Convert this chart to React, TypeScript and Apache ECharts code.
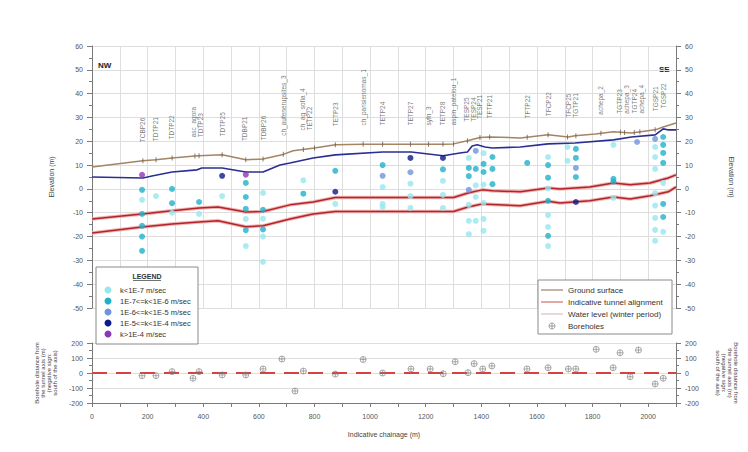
import React, { useEffect, useRef } from "react";
import * as echarts from "echarts";

// ---------- data ----------
const groundChain = [0, 183, 230, 288, 370, 385, 468, 553, 615, 683, 723, 800, 875, 975, 1045, 1148, 1210, 1262, 1300, 1350, 1395, 1430, 1540, 1640, 1712, 1737, 1810, 1875, 1940, 2025, 2054, 2100];
const groundElev = [9.2, 11.8, 12.2, 13, 13.8, 13.9, 14.3, 12.2, 12.6, 14.3, 16, 17.2, 18.5, 18.8, 18.8, 18.8, 18.8, 18.8, 18.9, 20.2, 21.6, 21.8, 21.4, 22.7, 21.8, 22.3, 23.1, 24, 23.5, 24.8, 26, 27.7];

const waterChain = [0, 183, 220, 288, 378, 395, 468, 553, 615, 676, 712, 795, 875, 1045, 1148, 1263, 1323, 1350, 1367, 1385, 1413, 1440, 1540, 1640, 1737, 1875, 1940, 2025, 2054, 2070, 2100];
const waterElev = [5, 4.6, 5.5, 7.1, 8, 8.8, 8.8, 7.1, 7.1, 10, 10.9, 13, 14.3, 15.5, 15.5, 13.9, 15.1, 15.5, 18, 18.5, 17.6, 17.2, 17.6, 18.9, 19.3, 20.6, 21.8, 22.7, 25.2, 24.8, 24.8];

const tunnelChain = [0, 180, 288, 385, 453, 553, 615, 712, 795, 875, 1000, 1180, 1300, 1352, 1403, 1440, 1540, 1640, 1683, 1790, 1875, 1935, 2007, 2072, 2100];
const tunnelTop = [-12.6, -10.5, -9.2, -8, -7.6, -9.7, -9.5, -6.7, -5.5, -3.6, -3.6, -3.6, -3.6, -1.7, -0.4, -0.8, -1.2, 0.4, 0, 0.8, 2.5, 1.7, 2.5, 4.6, 5.9];
const tunnelBottom = [-18.5, -16, -14.7, -13.9, -13.4, -15.9, -15.5, -12.6, -10.5, -9.5, -9.5, -9.5, -9.5, -7.6, -6.3, -6.5, -7.1, -5.2, -5.9, -5, -3.4, -4.2, -2.9, -1.2, 0.8];

const groundTickChain = [183, 230, 288, 370, 385, 468, 553, 615, 688, 760, 800, 875, 975, 1045, 1145, 1210, 1262, 1300, 1350, 1395, 1430, 1565, 1640, 1710, 1740, 1830, 1900, 1915, 1950, 1970, 2025];

const labelChain = [183, 230, 285, 378, 470, 550, 615, 688, 768, 875, 975, 1045, 1145, 1210, 1262, 1300, 1358, 1393, 1428, 1565, 1640, 1725, 1830, 1908, 1962, 2025, 2055];
const labelText = ["TCBP26", "TDTP21", "TDTP22", "asc_agora\nTDTP23", "TDTP25", "TDBP21", "TDBP26", "ch_aufenerupsites_3", "ch_ag_sofia_4\nTETP22", "TETP23", "ch_parisienomas_1", "TETP24", "TETP27", "syfn_3", "TETP28", "aspin_pateiou_1", "TESP25\nTESP24", "TESP21", "TFTP21", "TFTP22", "TFCP22", "TFCP25\nTGTP21", "achepa_2", "TGTP23\nachepa_3", "TGTP24\nachepa_4", "TGSP21", "TGSP22"];

// permeability classes: [chainage, elevation]
const kBelow1e7 = [[180, -4.6], [230, -3], [288, -10], [385, -10.5], [468, -3], [553, -12.6], [553, -24], [615, -1.7], [615, -12.5], [615, -20], [615, -30.6], [760, 3.6], [875, -6.3], [1045, 0.8], [1045, -6.3], [1045, -7.6], [1145, 2.2], [1145, -3], [1145, -8], [1262, 3.4], [1262, -2.5], [1262, -8], [1355, 13], [1355, -6.7], [1355, -13.4], [1355, -19], [1380, 1.5], [1380, -3.4], [1380, -13.4], [1408, 15], [1408, 1.8], [1408, -5.9], [1408, -12.6], [1408, -17.6], [1640, 13.4], [1640, 0.2], [1640, -11], [1640, -16], [1640, -24], [1710, 17.6], [1710, 11.8], [1875, 18.5], [1875, -3.8], [2025, 17.6], [2025, 13.4], [2025, 8.4], [2025, -1.8], [2025, -7], [2025, -12.2], [2025, -17.2], [2025, -21.8], [2054, 2.5], [2054, -18]];
const k1e7to1e6 = [[180, -0.4], [180, -10.5], [180, -15.5], [180, -20], [180, -26], [288, 0], [288, -6], [385, -5.5], [553, 2.5], [553, -3.4], [553, -8.4], [553, -17.3], [615, -8.8], [615, -17], [760, -2], [875, 7.6], [1045, 10], [1262, 8.2], [1355, 8.8], [1355, 5.4], [1380, 8.4], [1408, 10.5], [1408, 7.1], [1440, 13.4], [1440, 8.4], [1440, 2], [1565, 10.9], [1640, 10], [1640, 4.7], [1640, -5], [1640, -19.7], [1740, 16.8], [1740, 13], [1740, 5], [1875, 4.2], [1875, 3], [2054, 21.8], [2054, 18.5], [2054, 15.1], [2054, 10.9], [2054, -6.3], [2054, -11.8]];
const k1e6to1e5 = [[1045, 5.5], [1145, 7], [1355, -0.4], [1380, 16], [1740, 8.8], [1960, 19.7], [2025, 21]];
const k1e5to1e4 = [[468, 5.5], [875, -1.2], [1145, 13], [1262, 13], [1740, -5.5]];
const kAbove1e4 = [[180, 5.9], [553, 6]];

const boreholeChain = [180, 230, 288, 363, 385, 468, 553, 615, 683, 730, 760, 875, 975, 1045, 1147, 1216, 1263, 1306, 1352, 1374, 1405, 1438, 1564, 1640, 1713, 1740, 1813, 1874, 1899, 1935, 1965, 2025, 2054];
const boreholeOffset = [-18, -18, 9, -35, 9, -13, -13, 27, 93, -120, 13, -7, 90, 0, 27, 27, -5, 75, 2, 62, 27, 47, 27, 35, 27, 27, 158, 35, 135, -25, 153, -73, -35];

const kLegendText = ["k<1E-7 m/sec", "1E-7<=k<1E-6 m/sec", "1E-6<=k<1E-5 m/sec", "1E-5<=k<1E-4 m/sec", "k>1E-4 m/sec"];
const lineLegendText = ["Ground surface", "Indicative tunnel alignment", "Water level (winter period)", "Boreholes"];

// ---------- styling ----------
const FONT = "Liberation Sans";
const kColors = ["#97e6ee", "#1fb0c9", "#6f93dc", "#0d1a8c", "#8c36b8"];
const GRID = "#dedede";
const AXIS = "#7a7a7a";
const TXT = "#444";

function interp(xs: number[], ys: number[], x: number) {
  for (let i = 1; i < xs.length; i++) {
    if (x <= xs[i]) {
      const t = (x - xs[i - 1]) / (xs[i] - xs[i - 1]);
      return ys[i - 1] + t * (ys[i] - ys[i - 1]);
    }
  }
  return ys[ys.length - 1];
}

const zip = (a: number[], b: number[]) => a.map((v, i) => [v, b[i]]);

const boreSymbol = "path://M10,0A10,10 0 1 1 10,20A10,10 0 1 1 10,0ZM0,10L20,10M10,0L10,20";

const boreTitle = "Borehole distance from\nthe tunnel axis (m)\n(negative sign:\nsouth of the axis)";

function buildOption() {
  const kSeries = [kBelow1e7, k1e7to1e6, k1e6to1e5, k1e5to1e4, kAbove1e4].map((d, i) => ({
    type: "scatter",
    xAxisIndex: 0,
    yAxisIndex: 0,
    data: d,
    symbol: "circle",
    symbolSize: 6,
    itemStyle: { color: kColors[i] },
    z: 5,
  }));

  const labelData = labelChain.map((c, i) => ({
    value: [c, interp(groundChain, groundElev, c) + 7.8],
    name: labelText[i],
  }));

  const legendY = [290, 301, 312, 323, 334];
  const lineLegY = [290, 302, 314, 326];

  const graphic: any[] = [
    { type: "text", left: 98, top: 61, style: { text: "NW", font: `bold 8px ${FONT}`, fill: "#222" } },
    { type: "text", left: 659, top: 65, style: { text: "SE", font: `bold 8px ${FONT}`, fill: "#222" } },
    { type: "text", x: 51, y: 177, rotation: Math.PI / 2, style: { text: "Elevation (m)", font: `7px ${FONT}`, fill: TXT, align: "center", verticalAlign: "middle" } },
    { type: "text", x: 731, y: 177, rotation: -Math.PI / 2, style: { text: "Elevation (m)", font: `7px ${FONT}`, fill: TXT, align: "center", verticalAlign: "middle" } },
    { type: "text", x: 46, y: 373, rotation: Math.PI / 2, style: { text: boreTitle, font: `6px ${FONT}`, fill: TXT, align: "center", verticalAlign: "middle", lineHeight: 6 } },
    { type: "text", x: 727, y: 373, rotation: -Math.PI / 2, style: { text: boreTitle, font: `6px ${FONT}`, fill: TXT, align: "center", verticalAlign: "middle", lineHeight: 6 } },
    { type: "text", x: 384, y: 434, style: { text: "Indicative chainage (m)", font: `7px ${FONT}`, fill: TXT, align: "center", verticalAlign: "middle" } },
    // legend 1
    { type: "rect", z: 100, shape: { x: 96, y: 267, width: 102, height: 77 }, style: { fill: "#fff", stroke: "#8a8a8a", lineWidth: 1 } },
    { type: "text", z: 101, x: 147, y: 276, style: { text: "LEGEND", font: `bold 7px ${FONT}`, fill: "#333", align: "center", verticalAlign: "middle" } },
    { type: "line", z: 101, shape: { x1: 133, y1: 280.5, x2: 161, y2: 280.5 }, style: { stroke: "#333", lineWidth: 0.7 } },
    ...legendY.flatMap((y, i) => [
      { type: "circle", z: 101, shape: { cx: 108, cy: y, r: 3.5 }, style: { fill: kColors[i] } },
      { type: "text", z: 101, x: 120, y, style: { text: kLegendText[i], font: `7.5px ${FONT}`, fill: "#333", verticalAlign: "middle" } },
    ]),
    // legend 2
    { type: "rect", z: 100, shape: { x: 538, y: 280, width: 134, height: 54 }, style: { fill: "#fff", stroke: "#8a8a8a", lineWidth: 1 } },
    { type: "line", z: 101, shape: { x1: 541, y1: lineLegY[0], x2: 563, y2: lineLegY[0] }, style: { stroke: "#8a6a4c", lineWidth: 1 } },
    { type: "line", z: 101, shape: { x1: 541, y1: lineLegY[1], x2: 563, y2: lineLegY[1] }, style: { stroke: "#c8504a", lineWidth: 1 } },
    { type: "line", z: 101, shape: { x1: 541, y1: lineLegY[2], x2: 563, y2: lineLegY[2] }, style: { stroke: "#c9b2c8", lineWidth: 1 } },
    { type: "circle", z: 101, shape: { cx: 552, cy: lineLegY[3], r: 3 }, style: { fill: "none", stroke: "#888", lineWidth: 0.8 } },
    { type: "line", z: 101, shape: { x1: 549, y1: lineLegY[3], x2: 555, y2: lineLegY[3] }, style: { stroke: "#888", lineWidth: 0.8 } },
    { type: "line", z: 101, shape: { x1: 552, y1: lineLegY[3] - 3, x2: 552, y2: lineLegY[3] + 3 }, style: { stroke: "#888", lineWidth: 0.8 } },
    ...lineLegY.map((y, i) => ({ type: "text", z: 101, x: 568, y, style: { text: lineLegendText[i], font: `8px ${FONT}`, fill: "#333", verticalAlign: "middle" } })),
  ];

  const yMain = (pos: "left" | "right") => ({
    type: "value",
    gridIndex: 0,
    position: pos,
    min: -50,
    max: 60,
    interval: 10,
    axisLine: { show: true, lineStyle: { color: AXIS } },
    axisTick: { show: true, length: 5, lineStyle: { color: AXIS } },
    minorTick: { show: true, splitNumber: 2, length: 3, lineStyle: { color: AXIS } },
    axisLabel: { fontSize: 7, color: "#555", margin: 9, fontFamily: FONT },
    splitLine: { show: pos === "left", lineStyle: { color: GRID } },
  });
  const yBottom = (pos: "left" | "right") => ({
    type: "value",
    gridIndex: 1,
    position: pos,
    min: -200,
    max: 200,
    interval: 100,
    axisLine: { show: true, lineStyle: { color: AXIS } },
    axisTick: { show: true, length: 5, lineStyle: { color: AXIS } },
    minorTick: { show: true, splitNumber: 2, length: 3, lineStyle: { color: AXIS } },
    axisLabel: { fontSize: 7, color: "#555", margin: 9, fontFamily: FONT },
    splitLine: { show: pos === "left", lineStyle: { color: GRID } },
  });

  return {
    animation: false,
    backgroundColor: "#fff",
    textStyle: { fontFamily: FONT },
    grid: [
      { left: 92, top: 46, width: 584, height: 262 },
      { left: 92, top: 343, width: 584, height: 60 },
    ],
    xAxis: [
      {
        type: "value", gridIndex: 0, min: 0, max: 2100, interval: 100,
        axisLabel: { show: false }, axisTick: { show: false }, axisLine: { show: false },
        splitLine: { show: true, lineStyle: { color: GRID } },
      },
      {
        type: "value", gridIndex: 1, min: 0, max: 2100, interval: 100,
        axisLine: { show: true, onZero: false, lineStyle: { color: AXIS } },
        axisTick: { show: true, length: 4, lineStyle: { color: AXIS } },
        axisLabel: { fontSize: 7, color: "#555", margin: 10, fontFamily: FONT, formatter: (v: number) => (v % 200 === 0 && v <= 2000 ? String(v) : "") },
        splitLine: { show: false },
      },
    ],
    yAxis: [yMain("left"), yMain("right"), yBottom("left"), yBottom("right")],
    graphic,
    series: [
      { type: "line", xAxisIndex: 0, yAxisIndex: 0, data: zip(groundChain, groundElev), symbol: "none", lineStyle: { color: "#a48462", width: 1.5 }, z: 3 },
      { type: "scatter", xAxisIndex: 0, yAxisIndex: 0, data: groundTickChain.map((c) => [c, interp(groundChain, groundElev, c)]), symbol: "rect", symbolSize: [1, 5], itemStyle: { color: "#6d5b49" }, z: 4 },
      { type: "line", xAxisIndex: 0, yAxisIndex: 0, data: zip(waterChain, waterElev), symbol: "none", lineStyle: { color: "#2b2e92", width: 1.6 }, z: 3 },
      { type: "line", xAxisIndex: 0, yAxisIndex: 0, data: zip(tunnelChain, tunnelTop), symbol: "none", lineStyle: { color: "#f0b4b0", width: 3.5 }, z: 2 },
      { type: "line", xAxisIndex: 0, yAxisIndex: 0, data: zip(tunnelChain, tunnelTop), symbol: "none", lineStyle: { color: "#b3232b", width: 1.5 }, z: 3 },
      { type: "line", xAxisIndex: 0, yAxisIndex: 0, data: zip(tunnelChain, tunnelBottom), symbol: "none", lineStyle: { color: "#f0b4b0", width: 3.5 }, z: 2 },
      { type: "line", xAxisIndex: 0, yAxisIndex: 0, data: zip(tunnelChain, tunnelBottom), symbol: "none", lineStyle: { color: "#b3232b", width: 1.5 }, z: 3 },
      ...kSeries,
      {
        type: "scatter", xAxisIndex: 0, yAxisIndex: 0, data: labelData, symbolSize: 1,
        itemStyle: { color: "rgba(0,0,0,0)" },
        label: {
          show: true, position: "inside", rotate: 90, align: "left", verticalAlign: "middle",
          formatter: (p: any) => p.name, fontSize: 6.5, color: "#555", fontFamily: FONT, lineHeight: 7,
        },
        z: 6,
      },
      // bottom panel
      {
        type: "line", xAxisIndex: 1, yAxisIndex: 2, data: [[0, 0], [2100, 0]], symbol: "none",
        lineStyle: { color: "#d2453e", width: 2, type: [15, 9] }, z: 3,
      },
      {
        type: "scatter", xAxisIndex: 1, yAxisIndex: 2, data: zip(boreholeChain, boreholeOffset),
        symbol: boreSymbol, symbolSize: 6,
        itemStyle: { color: "rgba(255,255,255,0)", borderColor: "#7d7d7d", borderWidth: 0.8 }, z: 4,
      },
    ],
  };
}

export default function App() {
  const ref = useRef<HTMLDivElement>(null);
  useEffect(() => {
    if (!ref.current) return;
    const chart = echarts.init(ref.current, null, { renderer: "svg" });
    chart.setOption(buildOption() as any);
    return () => chart.dispose();
  }, []);
  return <div ref={ref} style={{ position: "fixed", left: 0, top: 0, width: 748, height: 452, background: "#fff" }} />;
}
